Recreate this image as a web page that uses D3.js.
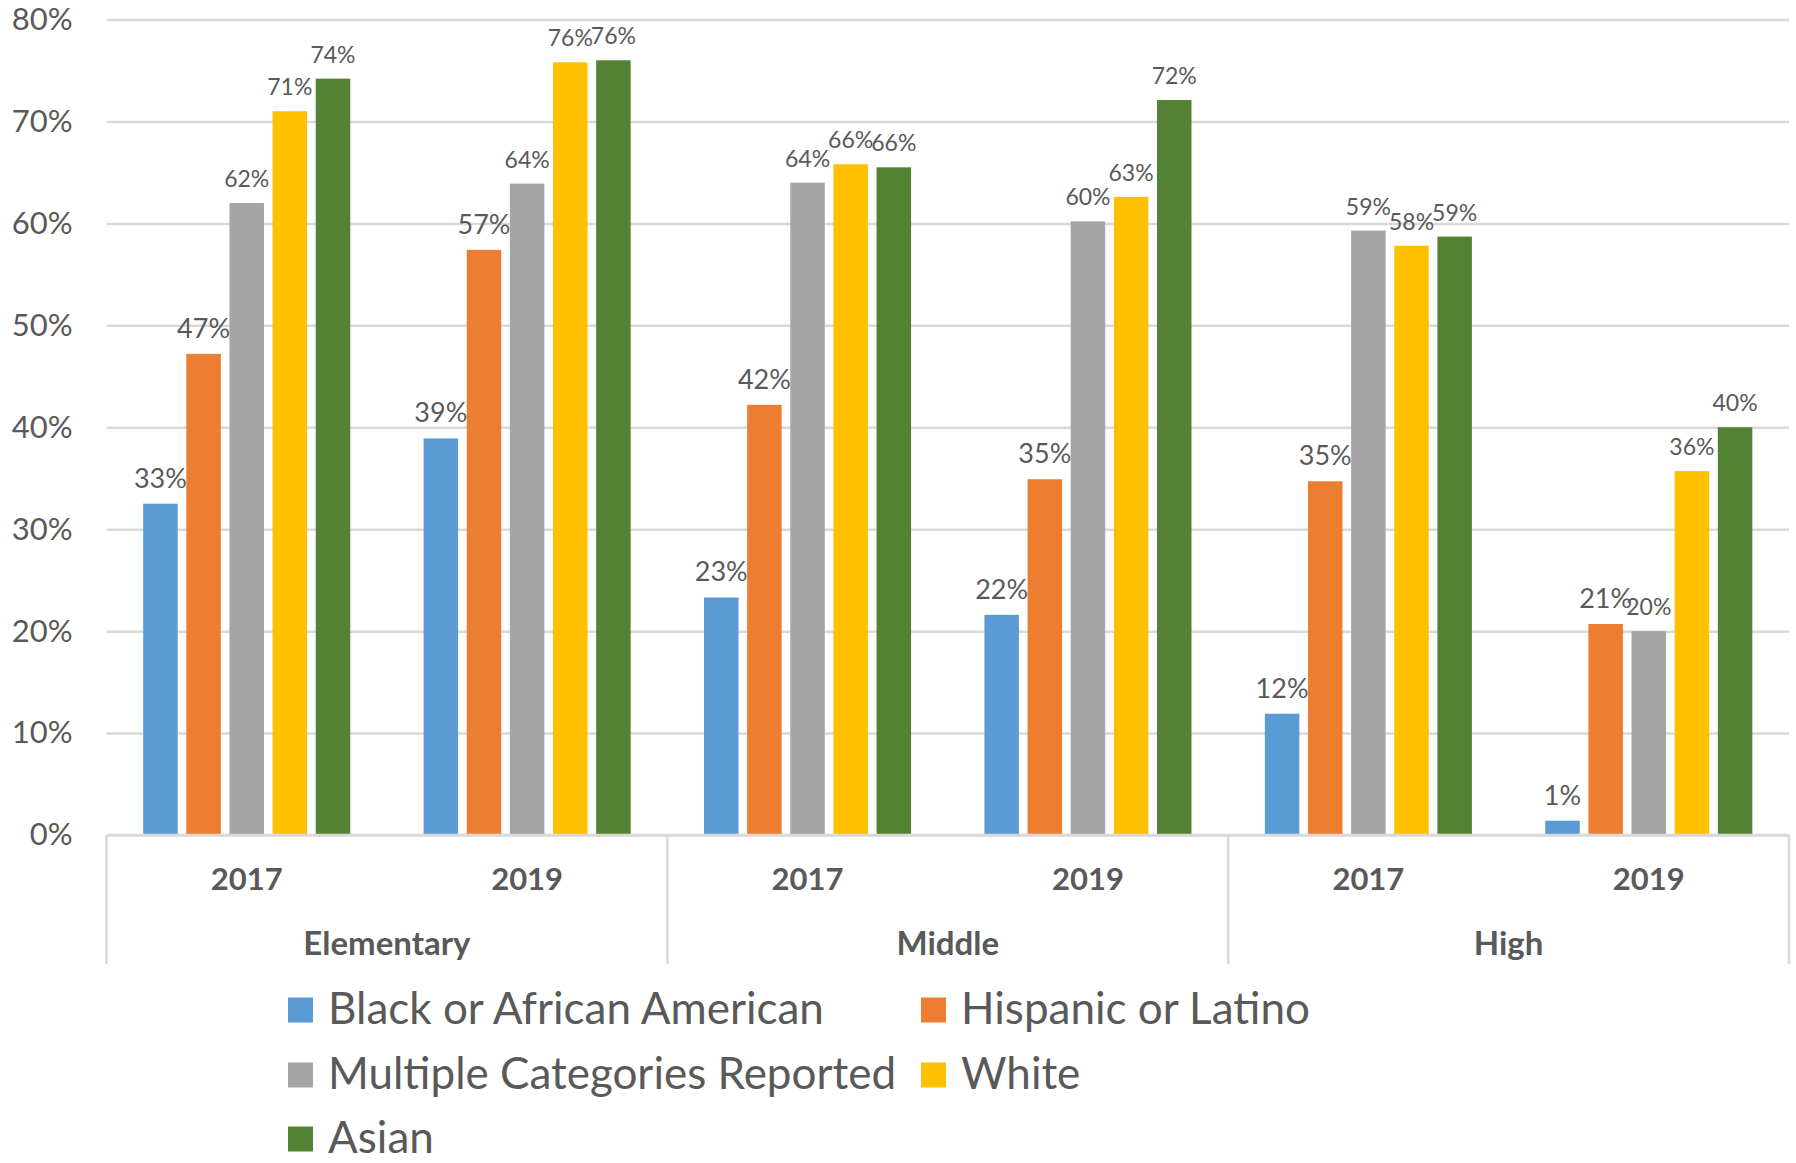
<!DOCTYPE html>
<html>
<head>
<meta charset="utf-8">
<script src="https://cdn.jsdelivr.net/npm/d3@7"></script>
<style>
  body { margin: 0; background: #fff; }
  text { font-family: Lato, "Noto Sans", sans-serif; fill: #595959; }
  .grid line { stroke: #d9d9d9; stroke-width: 2.5px; }
  .axis-line { stroke: #d9d9d9; stroke-width: 2.5px; }
</style>
</head>
<body>
<div class="chart"></div>
<script>
// data
const schools = ['Elementary', 'Middle', 'High'];
const years = ['2017', '2019'];
const series = ['Black or African American', 'Hispanic or Latino', 'Multiple Categories Reported', 'White', 'Asian'];
const colors = ['#5b9bd5', '#ed7d31', '#a5a5a5', '#ffc000', '#548235'];

// one array per series, in order Elem 2017, Elem 2019, Mid 2017, Mid 2019, High 2017, High 2019
const black    = [32.5, 38.9, 23.3, 21.6, 11.9, 1.4];
const hispanic = [47.2, 57.4, 42.2, 34.9, 34.7, 20.7];
const multiple = [62.0, 63.9, 64.0, 60.2, 59.3, 20.0];
const white    = [71.0, 75.8, 65.8, 62.6, 57.8, 35.7];
const asian    = [74.2, 76.0, 65.5, 72.1, 58.7, 40.0];

const yTicks = [0, 10, 20, 30, 40, 50, 60, 70, 80];

const values = [black, hispanic, multiple, white, asian];
const cats = [];
schools.forEach(s => years.forEach(y => cats.push({ school: s, year: y, key: s + '|' + y })));
const rows = cats.map((c, i) => ({ ...c, vals: series.map((k, j) => ({ key: k, idx: j, value: values[j][i] })) }));

const W = 1796, H = 1163;
const mLeft = 106.5, mRight = 1789, mTop = 19.5, mBottom = 835;

const svg = d3.select('.chart').append('svg')
  .attr('width', W)
  .attr('height', H);

//scales
const x0 = d3.scaleBand()
  .domain(cats.map(d => d.key))
  .range([mLeft, mRight])
  .padding(0);

const x1 = d3.scaleBand()
  .domain(series)
  .range([0, x0.bandwidth()])
  .paddingInner(0.2)
  .paddingOuter(0.85);

const y = d3.scaleLinear()
  .domain([0, 80])
  .range([mBottom, mTop]);

const color = d3.scaleOrdinal().domain(series).range(colors);

//gridlines + y labels
const yAxis = svg.append('g')
  .attr('class', 'grid')
  .attr('transform', `translate(${mLeft},0)`)
  .call(d3.axisLeft(y).tickValues(yTicks).tickSize(-(mRight - mLeft)).tickFormat(d => d + '%'));
yAxis.select('.domain').remove();
yAxis.selectAll('.tick text')
  .attr('x', -34)
  .style('font-size', '31px')
  .style('font-family', 'Lato, sans-serif')
  .attr('fill', '#595959');

//bars
const groups = svg.append('g')
  .selectAll('g')
  .data(rows).enter()
  .append('g')
    .attr('transform', d => `translate(${x0(d.key)},0)`);

groups.selectAll('rect')
  .data(d => d.vals)
  .enter().append('rect')
    .attr('x', d => x1(d.key))
    .attr('y', d => y(d.value))
    .attr('width', x1.bandwidth())
    .attr('height', d => y(0) - y(d.value))
    .attr('fill', d => color(d.key));

//data labels
groups.selectAll('.lbl')
  .data(d => d.vals)
  .enter().append('text')
    .attr('class', 'lbl')
    .attr('x', d => x1(d.key) + x1.bandwidth() / 2)
    .attr('y', d => y(d.value) - 16)
    .attr('text-anchor', 'middle')
    .style('font-size', d => d.idx < 2 ? '27px' : '23px')
    .text(d => Math.round(d.value) + '%');

//bottom axis line
svg.append('line')
  .attr('class', 'axis-line')
  .attr('x1', mLeft).attr('x2', mRight)
  .attr('y1', mBottom).attr('y2', mBottom);

//group separators
const sepX = [mLeft].concat(schools.map(s => x0(s + '|2019') + x0.bandwidth()));
svg.selectAll('.sep')
  .data(sepX)
  .enter().append('line')
    .attr('class', 'axis-line')
    .attr('x1', d => d).attr('x2', d => d)
    .attr('y1', mBottom).attr('y2', 964);

//year labels
svg.selectAll('.year')
  .data(cats)
  .enter().append('text')
    .attr('class', 'year')
    .attr('x', d => x0(d.key) + x0.bandwidth() / 2)
    .attr('y', 890)
    .attr('text-anchor', 'middle')
    .style('font-size', '31px')
    .style('font-weight', 'bold')
    .text(d => d.year);

//school labels
svg.selectAll('.school')
  .data(schools)
  .enter().append('text')
    .attr('class', 'school')
    .attr('x', d => x0(d + '|2017') + x0.bandwidth())
    .attr('y', 955)
    .attr('text-anchor', 'middle')
    .style('font-size', '33px')
    .style('font-weight', 'bold')
    .text(d => d);

//legend
const legX = [288, 921];
const legY = [1010, 1075, 1139];
const legend = svg.selectAll('.leg')
  .data(series)
  .enter().append('g')
    .attr('class', 'leg')
    .attr('transform', (d, i) => `translate(${legX[i % 2]},${legY[Math.floor(i / 2)]})`);
legend.append('rect')
  .attr('x', 0).attr('y', -12.5)
  .attr('width', 25).attr('height', 25)
  .attr('fill', d => color(d));
legend.append('text')
  .attr('x', 40)
  .attr('y', 14)
  .style('font-size', '44px')
  .text(d => d);
</script>
</body>
</html>
